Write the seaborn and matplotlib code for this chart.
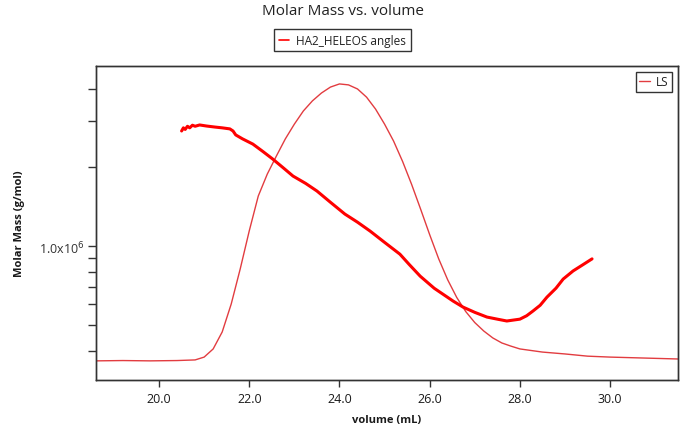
import numpy as np
import pandas as pd
import matplotlib
matplotlib.use('Agg')
import matplotlib.pyplot as plt
import seaborn as sns
from matplotlib.lines import Line2D
from matplotlib.ticker import MultipleLocator, FixedLocator, FixedFormatter, NullLocator, FormatStrFormatter

# Molar mass (g/mol) vs. elution volume (mL)
mm_volume = [20.50, 20.54, 20.58, 20.63, 20.68, 20.74, 20.80, 20.90, 21.05, 21.24,
             21.40, 21.57, 21.64, 21.70, 21.85, 22.08, 22.30, 22.52, 22.75, 22.97,
             23.25, 23.50, 23.80, 24.12, 24.40, 24.68, 25.00, 25.34, 25.55, 25.79,
             26.10, 26.52, 26.74, 27.00, 27.27, 27.50, 27.71, 28.00, 28.15, 28.29,
             28.45, 28.60, 28.80, 28.96, 29.18, 29.40, 29.60]
mm_log = [6.440, 6.452, 6.446, 6.458, 6.452, 6.462, 6.458, 6.463, 6.459, 6.455,
          6.452, 6.448, 6.440, 6.425, 6.410, 6.390, 6.362, 6.333, 6.300, 6.268,
          6.240, 6.211, 6.168, 6.123, 6.092, 6.058, 6.015, 5.970, 5.930, 5.886,
          5.840, 5.791, 5.768, 5.748, 5.730, 5.722, 5.715, 5.722, 5.735, 5.753,
          5.775, 5.806, 5.840, 5.875, 5.906, 5.930, 5.952]
molar_mass = [10 ** v for v in mm_log]

# LS detector trace (relative)
ls_volume = [18.60, 19.20, 19.80, 20.40, 20.80, 21.00, 21.20, 21.40, 21.60, 21.80,
             22.00, 22.20, 22.40, 22.60, 22.80, 23.00, 23.20, 23.40, 23.60, 23.80,
             24.00, 24.20, 24.40, 24.60, 24.80, 25.00, 25.20, 25.40, 25.60, 25.80,
             26.00, 26.20, 26.40, 26.60, 26.80, 27.00, 27.20, 27.40, 27.60, 27.80,
             28.00, 28.50, 29.00, 29.50, 30.00, 30.75, 31.50]
ls_signal = [0.060, 0.061, 0.060, 0.061, 0.063, 0.072, 0.098, 0.152, 0.241, 0.353,
             0.474, 0.585, 0.655, 0.712, 0.767, 0.814, 0.856, 0.888, 0.913, 0.932,
             0.942, 0.939, 0.926, 0.900, 0.862, 0.814, 0.760, 0.695, 0.622, 0.543,
             0.462, 0.385, 0.318, 0.262, 0.217, 0.182, 0.155, 0.133, 0.117, 0.107,
             0.098, 0.088, 0.082, 0.075, 0.072, 0.069, 0.066]

mm_df = pd.DataFrame({'volume': mm_volume, 'molar_mass': molar_mass})
ls_df = pd.DataFrame({'volume': ls_volume, 'LS': ls_signal})

y_ticks = [4e5, 5e5, 6e5, 7e5, 8e5, 9e5, 1e6, 2e6, 3e6, 4e6]
y_labels = ['', '', '', '', '', '', r'1.0x10$^6$', '', '', '']

sns.set_style('white')
plt.rcParams['font.family'] = ['Open Sans', 'DejaVu Sans']
plt.rcParams['text.color'] = '#222222'

fig, ax = plt.subplots(figsize=(6.85, 4.39), dpi=100)
fig.subplots_adjust(left=0.140, right=0.9894, bottom=0.1328, top=0.848)
ax2 = ax.twinx()

# LS trace on a hidden secondary axis
sns.lineplot(data=ls_df, x='volume', y='LS', ax=ax2, color='#e23c40', lw=1.0, label='LS')
ax2.set_ylim(0, 1)
ax2.set_yticks([])
ax2.set_ylabel('')
ax2.legend(loc='upper right', fontsize=8.5, frameon=True, fancybox=False, edgecolor='#333333',
           handlelength=0.9, handletextpad=0.5, borderpad=0.3, borderaxespad=0.5,
           framealpha=1)

# molar mass on the log axis, drawn above the LS trace
sns.lineplot(data=mm_df, x='volume', y='molar_mass', ax=ax, color='#ff0000', lw=2.2,
             legend=False)
ax.set_zorder(ax2.get_zorder() + 1)
ax.patch.set_visible(False)

ax.set_yscale('log')
ax.set_ylim(10 ** 5.491, 10 ** 6.689)
ax.set_xlim(18.6, 31.5)
ax.yaxis.set_major_locator(FixedLocator(y_ticks))
ax.yaxis.set_major_formatter(FixedFormatter(y_labels))
ax.yaxis.set_minor_locator(NullLocator())
ax.xaxis.set_major_locator(MultipleLocator(2))
ax.xaxis.set_minor_locator(MultipleLocator(0.5))
ax.xaxis.set_major_formatter(FormatStrFormatter('%.1f'))
ax.tick_params(axis='x', which='major', direction='out', length=5, width=1,
               color='#333333', labelsize=9, labelcolor='#1a1a1a', pad=4)
ax.tick_params(axis='x', which='minor', direction='out', length=2.5, width=1, color='#333333')
ax.tick_params(axis='y', which='major', direction='out', length=6, width=1,
               color='#333333', labelsize=9, labelcolor='#333333', pad=2)
ax.tick_params(left=True, bottom=True)
for a in (ax, ax2):
    for s in a.spines.values():
        s.set_color('#333333')
        s.set_linewidth(1.0)

ax.set_xlabel('volume (mL)', fontsize=8, fontweight='bold', labelpad=6, color='#1a1a1a')
ax.set_ylabel('Molar Mass (g/mol)', fontsize=8, fontweight='bold', labelpad=10, color='#1a1a1a')

fig.suptitle('Molar Mass vs. volume', fontsize=11, y=0.99)
handle = Line2D([], [], color='#ff0000', lw=1.2)
fig.legend([handle], ['HA2_HELEOS angles'], loc='upper center', bbox_to_anchor=(0.5, 0.945),
           fontsize=8.5, frameon=True, fancybox=False, edgecolor='#333333',
           handlelength=0.9, handletextpad=0.6, borderpad=0.4, framealpha=1)

fig.savefig('out.png', dpi=100)
